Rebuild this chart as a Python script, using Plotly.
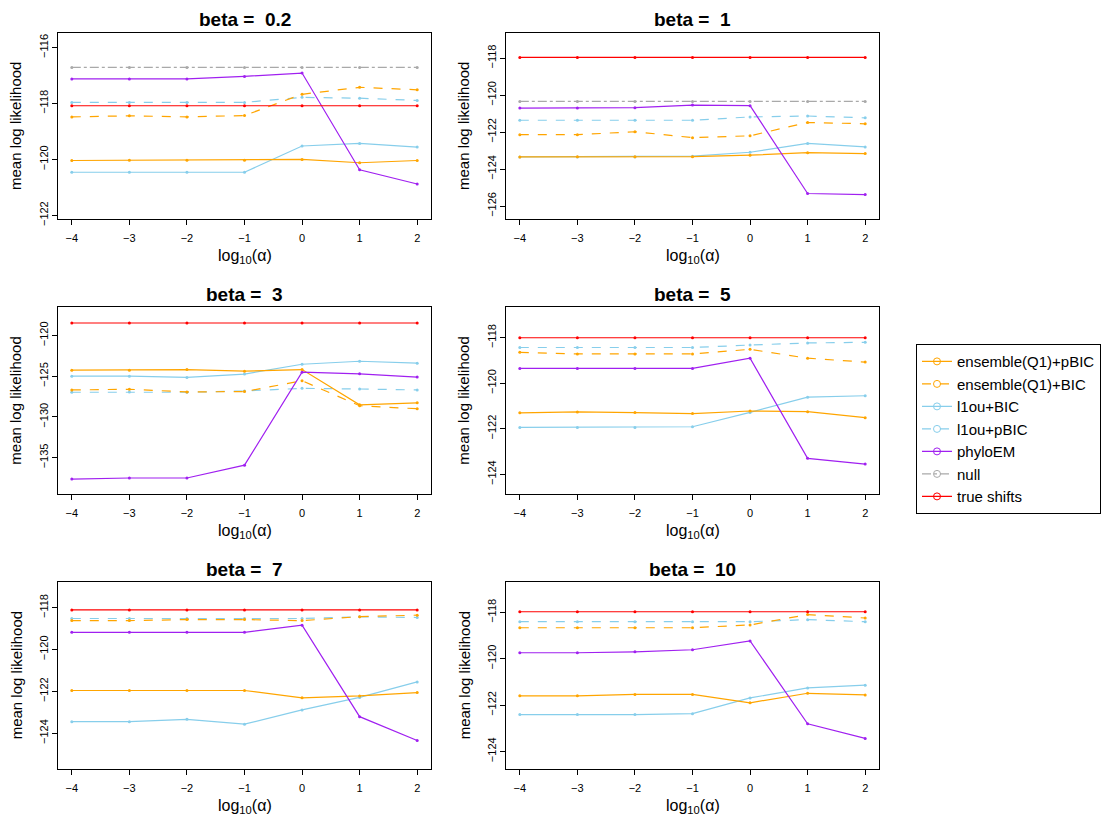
import plotly.graph_objects as go

# x positions: log10(alpha)
log_alpha = [-4, -3, -2, -1, 0, 1, 2]
betas = ["0.2", "1", "3", "5", "7", "10"]

# one row per beta panel, one value per log10(alpha)
ens_pbic = [
    [-120.04, -120.03, -120.03, -120.03, -120.00, -120.12, -120.04],
    [-123.34, -123.33, -123.33, -123.33, -123.25, -123.11, -123.16],
    [-124.26, -124.26, -124.18, -124.38, -124.18, -128.51, -128.27],
    [-121.30, -121.26, -121.29, -121.33, -121.22, -121.25, -121.51],
    [-121.96, -121.96, -121.96, -121.96, -122.31, -122.22, -122.06],
    [-121.60, -121.60, -121.54, -121.54, -121.90, -121.49, -121.56],
]
ens_bic = [
    [-118.48, -118.44, -118.48, -118.43, -117.67, -117.42, -117.51],
    [-122.14, -122.14, -121.98, -122.30, -122.20, -121.48, -121.55],
    [-126.69, -126.60, -126.93, -126.89, -125.55, -128.63, -129.00],
    [-118.64, -118.71, -118.71, -118.71, -118.51, -118.90, -119.07],
    [-118.62, -118.62, -118.57, -118.57, -118.62, -118.43, -118.36],
    [-118.66, -118.66, -118.66, -118.66, -118.54, -118.09, -118.24],
]
l1ou_bic = [
    [-120.46, -120.46, -120.46, -120.46, -119.52, -119.43, -119.56],
    [-123.34, -123.34, -123.34, -123.30, -123.09, -122.61, -122.80],
    [-124.99, -124.99, -125.15, -124.74, -123.53, -123.16, -123.40],
    [-121.94, -121.94, -121.94, -121.91, -121.28, -120.61, -120.55],
    [-123.45, -123.45, -123.34, -123.57, -122.89, -122.29, -121.55],
    [-122.41, -122.41, -122.41, -122.37, -121.69, -121.26, -121.14],
]
l1ou_pbic = [
    [-117.96, -117.96, -117.96, -117.96, -117.78, -117.81, -117.89],
    [-121.36, -121.36, -121.36, -121.36, -121.18, -121.13, -121.23],
    [-126.97, -126.93, -126.97, -126.81, -126.49, -126.57, -126.69],
    [-118.43, -118.43, -118.43, -118.43, -118.32, -118.23, -118.20],
    [-118.52, -118.52, -118.52, -118.52, -118.52, -118.44, -118.47],
    [-118.40, -118.40, -118.40, -118.40, -118.40, -118.31, -118.40],
]
phyloem = [
    [-117.12, -117.12, -117.12, -117.03, -116.91, -120.37, -120.88],
    [-120.70, -120.70, -120.68, -120.54, -120.57, -125.32, -125.38],
    [-137.64, -137.51, -137.51, -135.93, -124.50, -124.70, -125.11],
    [-119.35, -119.35, -119.35, -119.35, -118.90, -123.30, -123.55],
    [-119.18, -119.18, -119.18, -119.18, -118.84, -123.21, -124.35],
    [-119.74, -119.74, -119.70, -119.61, -119.23, -122.81, -123.44],
]
# null model only falls inside the plotted range for the first two panels
null_model = [
    [-116.71, -116.71, -116.71, -116.71, -116.71, -116.71, -116.71],
    [-120.34, -120.34, -120.34, -120.34, -120.34, -120.34, -120.34],
    None, None, None, None,
]
true_shifts = [
    [-118.08, -118.08, -118.08, -118.08, -118.08, -118.08, -118.08],
    [-117.96, -117.96, -117.96, -117.96, -117.96, -117.96, -117.96],
    [-118.46, -118.46, -118.46, -118.46, -118.46, -118.46, -118.46],
    [-118.00, -118.00, -118.00, -118.00, -118.00, -118.00, -118.00],
    [-118.11, -118.11, -118.11, -118.11, -118.11, -118.11, -118.11],
    [-117.97, -117.97, -117.97, -117.97, -117.97, -117.97, -117.97],
]

W, H = 1120, 831
FONT = "Liberation Sans, Arial, sans-serif"


def px_x(v):
    return v / W


def px_y(v):
    return 1 - v / H


# (name, data, colour, dash) in legend order
series = [
    ("ensemble(Q1)+pBIC", ens_pbic, "#FFA500", "solid"),
    ("ensemble(Q1)+BIC", ens_bic, "#FFA500", "dash"),
    ("l1ou+BIC", l1ou_bic, "#87CEEB", "solid"),
    ("l1ou+pBIC", l1ou_pbic, "#87CEEB", "dash"),
    ("phyloEM", phyloem, "#A020F0", "solid"),
    ("null", null_model, "#A9A9A9", "dashdot"),
    ("true shifts", true_shifts, "#FF0000", "solid"),
]
draw_order = [2, 3, 0, 1, 4, 5, 6]

# panel boxes in pixels (left, right) and (top, bottom)
col_x = [(50, 423), (498, 871)]
row_y = [(25, 213), (302, 490), (579, 767)]
y_ranges = [(-122.14, -115.47), (-126.71, -116.63), (-139.46, -116.55),
            (-124.86, -116.67), (-125.69, -116.78), (-124.74, -116.69)]
y_dticks = [2, 2, 5, 2, 2, 2]

fig = go.Figure()
layout = {}
annotations = []

for p in range(6):
    r, c = divmod(p, 2)
    x0, x1 = col_x[c]
    yt, yb = row_y[r]
    sfx = "" if p == 0 else str(p + 1)
    xa, ya = "x" + sfx, "y" + sfx

    for k in draw_order:
        name, data, col, dash = series[k]
        if data[p] is None:
            continue
        fig.add_trace(go.Scatter(
            x=log_alpha, y=data[p], xaxis=xa, yaxis=ya,
            mode="lines+markers", showlegend=False, name=name,
            line=dict(color=col, width=1.2, dash=dash),
            marker=dict(color=col, size=3, symbol="circle"),
        ))

    axis_common = dict(showgrid=False, zeroline=False, showline=True,
                       linecolor="black", linewidth=1, mirror=True,
                       ticks="outside", ticklen=5, tickcolor="black",
                       tickfont=dict(family=FONT, size=11, color="black"))
    layout["xaxis" + sfx] = dict(
        domain=[px_x(x0), px_x(x1)], anchor=ya, range=[-4.24, 2.24],
        tickmode="array", tickvals=log_alpha, ticklabelstandoff=4,
        **axis_common)
    layout["yaxis" + sfx] = dict(
        domain=[px_y(yb), px_y(yt)], anchor=xa, range=list(y_ranges[p]),
        dtick=y_dticks[p], tick0=0, tickangle=-90, **axis_common)

    annotations.append(dict(
        text="<b>beta =  %s</b>" % betas[p], xref="paper", yref="paper",
        x=px_x((x0 + x1) / 2), y=px_y(yt - 13), xanchor="center",
        yanchor="middle", showarrow=False,
        font=dict(family=FONT, size=19, color="black")))
    annotations.append(dict(
        text="log<sub>10</sub>(α)", xref="paper", yref="paper",
        x=px_x((x0 + x1) / 2), y=px_y(yb + 38), xanchor="center",
        yanchor="middle", showarrow=False,
        font=dict(family=FONT, size=16, color="black")))
    annotations.append(dict(
        text="mean log likelihood", xref="paper", yref="paper",
        x=px_x(x0 - 42), y=px_y((yt + yb) / 2), xanchor="center",
        yanchor="middle", textangle=-90, showarrow=False,
        font=dict(family=FONT, size=15, color="black")))

# legend entries
for name, data, col, dash in series:
    fig.add_trace(go.Scatter(
        x=[None], y=[None], mode="lines+markers", name=name,
        line=dict(color=col, width=1.2, dash=dash),
        marker=dict(color=col, size=7, symbol="circle-open"),
    ))

fig.update_layout(
    width=W, height=H,
    margin=dict(l=0, r=0, t=0, b=0),
    paper_bgcolor="white", plot_bgcolor="white",
    annotations=annotations,
    showlegend=True,
    legend=dict(x=px_x(908), y=px_y(339), xanchor="left", yanchor="top",
                bordercolor="black", borderwidth=1, bgcolor="white",
                font=dict(family=FONT, size=15, color="black"),
                tracegroupgap=0),
    **layout,
)

fig.write_html("out.html")
